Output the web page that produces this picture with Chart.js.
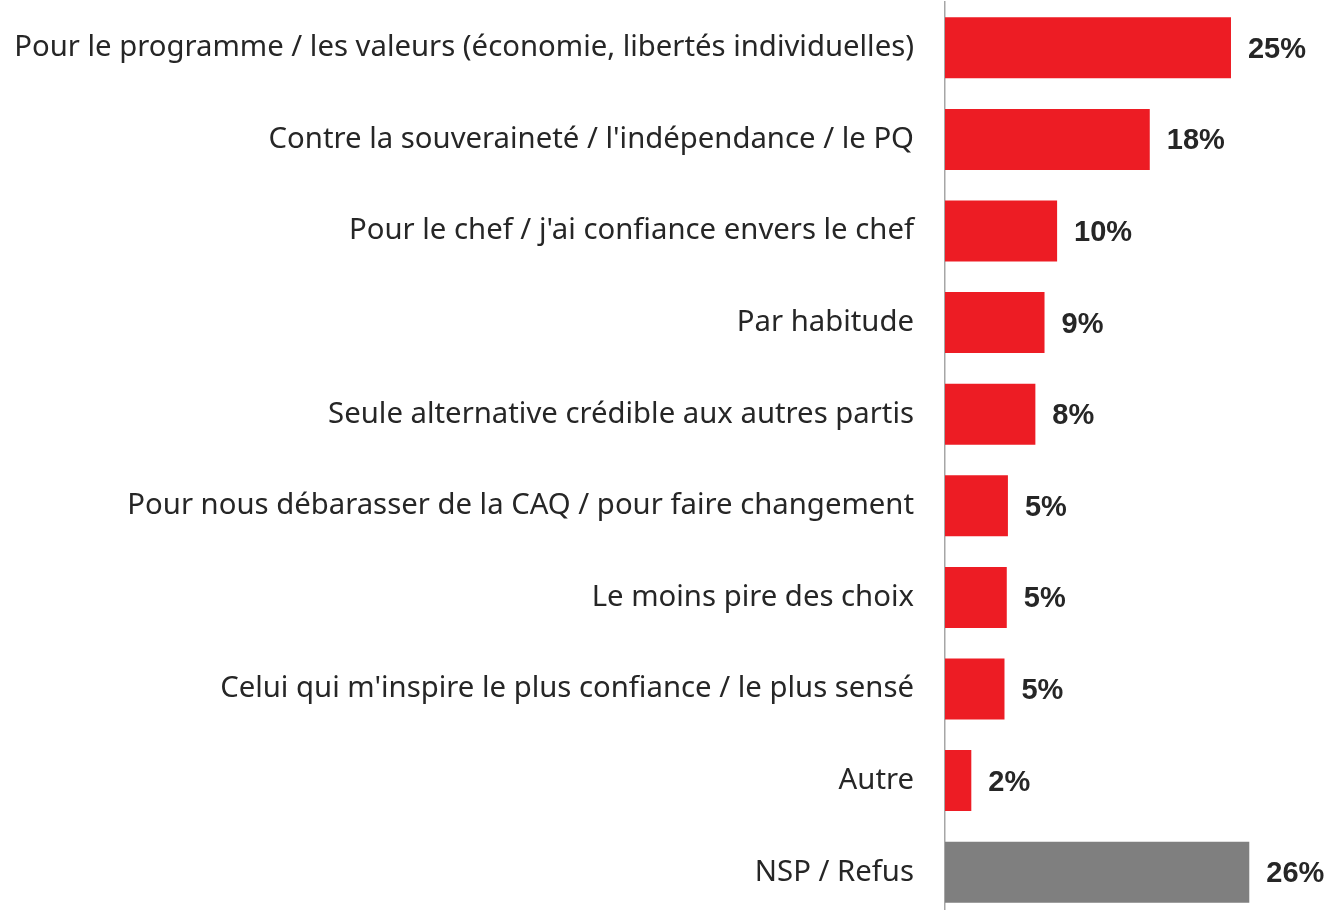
<!DOCTYPE html>
<html>
<head>
<meta charset="utf-8">
<script src="https://cdn.jsdelivr.net/npm/chart.js@4"></script>
<style>
  html, body { margin: 0; padding: 0; background: #fff; overflow: hidden; }
  #wrap { position: relative; width: 1330px; height: 918px; }
</style>
</head>
<body>
<div id="wrap"><canvas id="chartRaisons"></canvas></div>
<script>
// Raisons du vote (en %)
const categories = [
  'Pour le programme / les valeurs (économie, libertés individuelles)',
  "Contre la souveraineté / l'indépendance / le PQ",
  "Pour le chef / j'ai confiance envers le chef",
  'Par habitude',
  'Seule alternative crédible aux autres partis',
  'Pour nous débarasser de la CAQ / pour faire changement',
  'Le moins pire des choix',
  "Celui qui m'inspire le plus confiance / le plus sensé",
  'Autre',
  'NSP / Refus'
];
const values = [25.0, 17.9, 9.8, 8.7, 7.9, 5.5, 5.4, 5.2, 2.3, 26.6];
const valueLabels = ['25%', '18%', '10%', '9%', '8%', '5%', '5%', '5%', '2%', '26%'];

// etiquettes a droite des barres
const valueLabelPlugin = {
  id: 'valueLabels',
  afterDatasetsDraw(chart) {
    const ctx = chart.ctx;
    const meta = chart.getDatasetMeta(0);
    ctx.save();
    ctx.font = 'bold 29px "Liberation Sans", Arial, sans-serif';
    ctx.fillStyle = '#262626';
    ctx.textAlign = 'left';
    ctx.textBaseline = 'middle';
    meta.data.forEach((bar, i) => {
      ctx.fillText(valueLabels[i], bar.x + 17, bar.y + 2);
    });
    ctx.restore();
  }
};

const ctx = document.getElementById('chartRaisons').getContext('2d');
const chart = new Chart(ctx, {
  type: 'bar',
  data: {
    labels: categories,
    datasets: [{
      data: values,
      backgroundColor: categories.map((c, i) => i === categories.length - 1 ? '#7f7f7f' : '#ed1c24'),
      barPercentage: 0.666,
      categoryPercentage: 1
    }]
  },
  plugins: [valueLabelPlugin],
  options: {
    indexAxis: 'y',
    responsive: true,
    maintainAspectRatio: false,
    animation: false,
    layout: { padding: { top: 2, right: 7.5, bottom: 0, left: 0 } },
    plugins: {
      legend: { display: false },
      tooltip: { enabled: false }
    },
    scales: {
      x: {
        display: false,
        min: 0,
        max: 33
      },
      y: {
        afterFit: (scale) => {
          scale.width = 945;
          scale.paddingTop = 0;
          scale.paddingBottom = 0;
        },
        grid: { display: false, drawTicks: false },
        border: { display: true, color: '#a6a6a6', width: 1.5 },
        ticks: {
          padding: 31,
          color: '#262626',
          font: { family: '"Noto Sans", sans-serif', size: 29.3 }
        }
      }
    }
  }
});
</script>
</body>
</html>
